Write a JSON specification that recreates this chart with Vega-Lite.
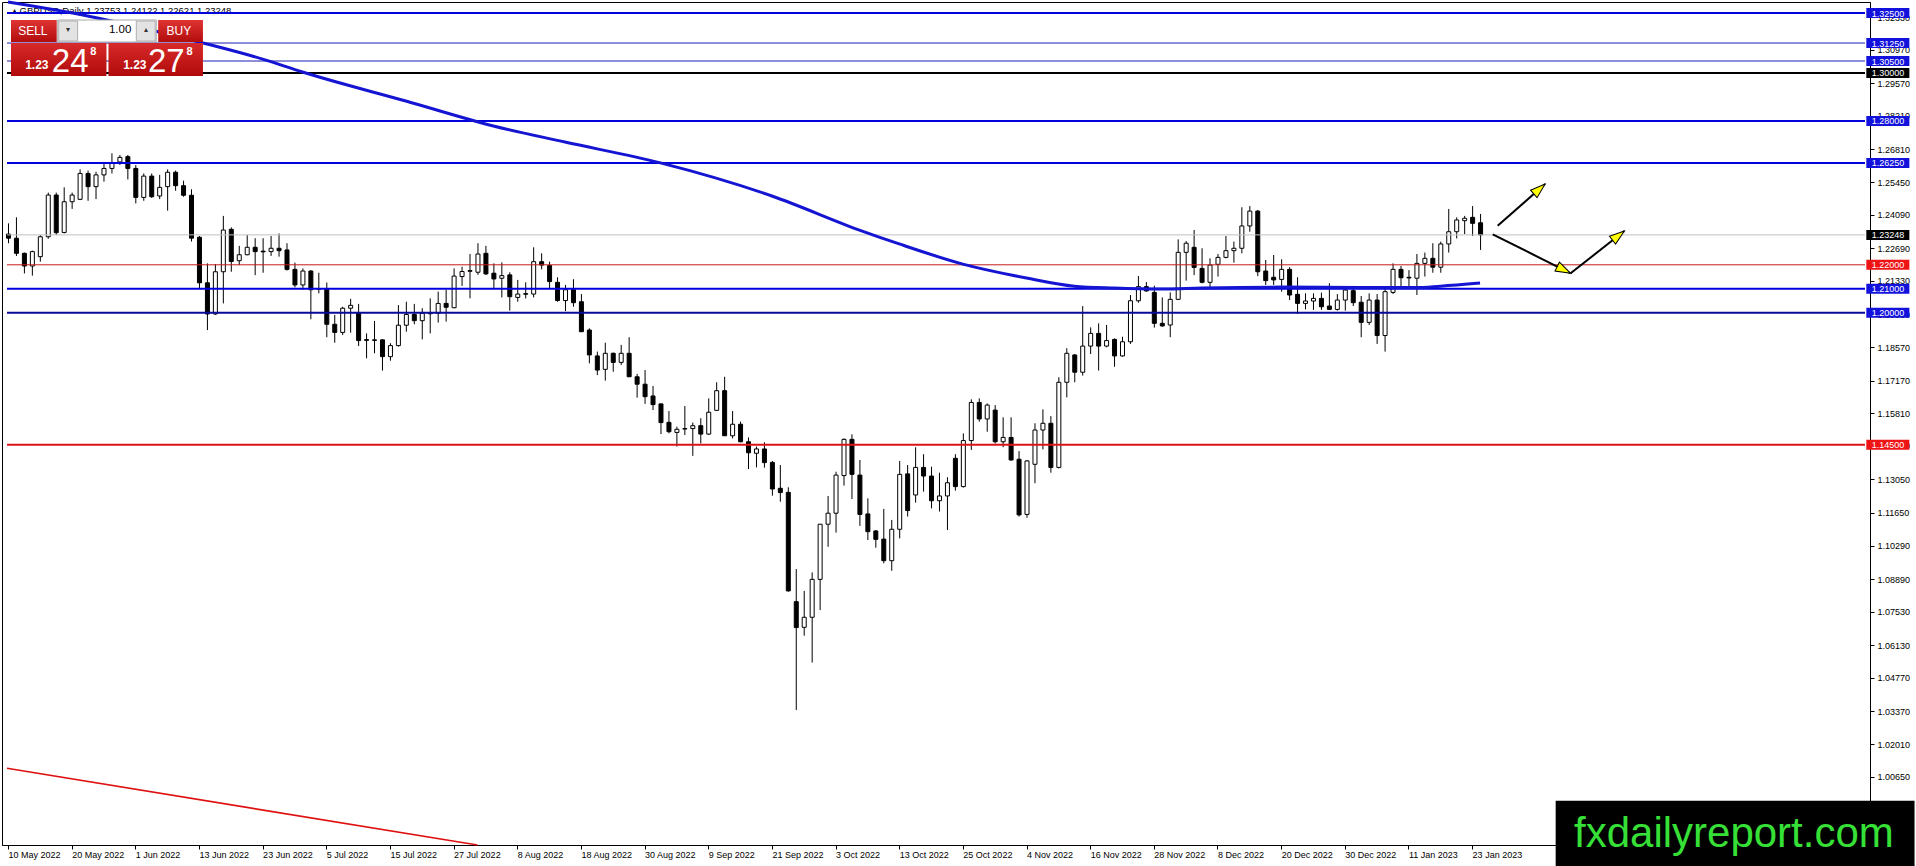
{
  "$schema": "https://vega.github.io/schema/vega-lite/v6.json",
  "width": 1868,
  "height": 843,
  "autosize": {"type": "none"},
  "padding": {"left": 2, "top": 2, "right": 46, "bottom": 21},
  "background": "#ffffff",
  "config": {
    "view": {"stroke": "#000000", "strokeWidth": 1},
    "font": "Liberation Sans",
    "axis": {"labelFont": "Liberation Sans", "labelFontSize": 9, "labelColor": "#000000", "domainColor": "#000000", "tickColor": "#000000", "tickSize": 4, "grid": false}
  },
  "resolve": {"axis": {"x": "independent", "y": "independent"}},
  "datasets": {
    "ohlc": [
      {"i":0,"o":1.2328,"h":1.2373,"l":1.2290,"c":1.2311},
      {"i":1,"o":1.2311,"h":1.2398,"l":1.2237,"c":1.2248},
      {"i":2,"o":1.2248,"h":1.2251,"l":1.2164,"c":1.2195},
      {"i":3,"o":1.2195,"h":1.2259,"l":1.2155,"c":1.2255},
      {"i":4,"o":1.2234,"h":1.2324,"l":1.2213,"c":1.2317},
      {"i":5,"o":1.2317,"h":1.2501,"l":1.2309,"c":1.2491},
      {"i":6,"o":1.2491,"h":1.2501,"l":1.2324,"c":1.2334},
      {"i":7,"o":1.2335,"h":1.2523,"l":1.2331,"c":1.2463},
      {"i":8,"o":1.2463,"h":1.2501,"l":1.2433,"c":1.2491},
      {"i":9,"o":1.2473,"h":1.2598,"l":1.2470,"c":1.2581},
      {"i":10,"o":1.2581,"h":1.2593,"l":1.2467,"c":1.2526},
      {"i":11,"o":1.2526,"h":1.2588,"l":1.2474,"c":1.2575},
      {"i":12,"o":1.2575,"h":1.2626,"l":1.2547,"c":1.2602},
      {"i":13,"o":1.2602,"h":1.2665,"l":1.2581,"c":1.2626},
      {"i":14,"o":1.2629,"h":1.2658,"l":1.2616,"c":1.2648},
      {"i":15,"o":1.2651,"h":1.2658,"l":1.2556,"c":1.2602},
      {"i":16,"o":1.2602,"h":1.2616,"l":1.2456,"c":1.2481},
      {"i":17,"o":1.2481,"h":1.2581,"l":1.2467,"c":1.2570},
      {"i":18,"o":1.2570,"h":1.2581,"l":1.2479,"c":1.2484},
      {"i":19,"o":1.2487,"h":1.2575,"l":1.2474,"c":1.2523},
      {"i":20,"o":1.2526,"h":1.2598,"l":1.2426,"c":1.2586},
      {"i":21,"o":1.2586,"h":1.2593,"l":1.2509,"c":1.2530},
      {"i":22,"o":1.2530,"h":1.2551,"l":1.2484,"c":1.2490},
      {"i":23,"o":1.2490,"h":1.2515,"l":1.2297,"c":1.2311},
      {"i":24,"o":1.2315,"h":1.2320,"l":1.2102,"c":1.2125},
      {"i":25,"o":1.2125,"h":1.2206,"l":1.1928,"c":1.1995},
      {"i":26,"o":1.1995,"h":1.2203,"l":1.1991,"c":1.2171},
      {"i":27,"o":1.2171,"h":1.2404,"l":1.2039,"c":1.2345},
      {"i":28,"o":1.2348,"h":1.2356,"l":1.2171,"c":1.2214},
      {"i":29,"o":1.2217,"h":1.2279,"l":1.2199,"c":1.2242},
      {"i":30,"o":1.2242,"h":1.2324,"l":1.2240,"c":1.2273},
      {"i":31,"o":1.2273,"h":1.2311,"l":1.2157,"c":1.2255},
      {"i":32,"o":1.2257,"h":1.2311,"l":1.2167,"c":1.2254},
      {"i":33,"o":1.2255,"h":1.2320,"l":1.2237,"c":1.2269},
      {"i":34,"o":1.2269,"h":1.2331,"l":1.2234,"c":1.2259},
      {"i":35,"o":1.2262,"h":1.2290,"l":1.2176,"c":1.2181},
      {"i":36,"o":1.2181,"h":1.2209,"l":1.2106,"c":1.2116},
      {"i":37,"o":1.2116,"h":1.2185,"l":1.2095,"c":1.2174},
      {"i":38,"o":1.2174,"h":1.2178,"l":1.1973,"c":1.2096},
      {"i":39,"o":1.2098,"h":1.2167,"l":1.2081,"c":1.2101},
      {"i":40,"o":1.2098,"h":1.2126,"l":1.1898,"c":1.1952},
      {"i":41,"o":1.1952,"h":1.1991,"l":1.1875,"c":1.1918},
      {"i":42,"o":1.1918,"h":1.2025,"l":1.1907,"c":1.2019},
      {"i":43,"o":1.2019,"h":1.2058,"l":1.1917,"c":1.2031},
      {"i":44,"o":1.2000,"h":1.2037,"l":1.1861,"c":1.1884},
      {"i":45,"o":1.1888,"h":1.1914,"l":1.1810,"c":1.1885},
      {"i":46,"o":1.1887,"h":1.1966,"l":1.1831,"c":1.1885},
      {"i":47,"o":1.1887,"h":1.1889,"l":1.1759,"c":1.1817},
      {"i":48,"o":1.1817,"h":1.1873,"l":1.1800,"c":1.1863},
      {"i":49,"o":1.1863,"h":1.2032,"l":1.1859,"c":1.1948},
      {"i":50,"o":1.1948,"h":1.2046,"l":1.1921,"c":1.1993},
      {"i":51,"o":1.1993,"h":1.2037,"l":1.1952,"c":1.1967},
      {"i":52,"o":1.1967,"h":1.2019,"l":1.1889,"c":1.1998},
      {"i":53,"o":1.1996,"h":1.2060,"l":1.1914,"c":1.1999},
      {"i":54,"o":1.1998,"h":1.2088,"l":1.1959,"c":1.2039},
      {"i":55,"o":1.2039,"h":1.2096,"l":1.1963,"c":1.2023},
      {"i":56,"o":1.2021,"h":1.2185,"l":1.2019,"c":1.2153},
      {"i":57,"o":1.2151,"h":1.2192,"l":1.2112,"c":1.2172},
      {"i":58,"o":1.2173,"h":1.2245,"l":1.2060,"c":1.2176},
      {"i":59,"o":1.2169,"h":1.2290,"l":1.2158,"c":1.2245},
      {"i":60,"o":1.2248,"h":1.2279,"l":1.2158,"c":1.2162},
      {"i":61,"o":1.2165,"h":1.2206,"l":1.2102,"c":1.2141},
      {"i":62,"o":1.2144,"h":1.2210,"l":1.2064,"c":1.2155},
      {"i":63,"o":1.2158,"h":1.2169,"l":1.2009,"c":1.2067},
      {"i":64,"o":1.2064,"h":1.2137,"l":1.2046,"c":1.2078},
      {"i":65,"o":1.2077,"h":1.2127,"l":1.2060,"c":1.2080},
      {"i":66,"o":1.2078,"h":1.2273,"l":1.2064,"c":1.2213},
      {"i":67,"o":1.2213,"h":1.2248,"l":1.2181,"c":1.2199},
      {"i":68,"o":1.2197,"h":1.2213,"l":1.2102,"c":1.2130},
      {"i":69,"o":1.2127,"h":1.2148,"l":1.2046,"c":1.2051},
      {"i":70,"o":1.2051,"h":1.2116,"l":1.2007,"c":1.2096},
      {"i":71,"o":1.2096,"h":1.2140,"l":1.2025,"c":1.2042},
      {"i":72,"o":1.2046,"h":1.2078,"l":1.1921,"c":1.1921},
      {"i":73,"o":1.1928,"h":1.1935,"l":1.1789,"c":1.1824},
      {"i":74,"o":1.1820,"h":1.1838,"l":1.1740,"c":1.1761},
      {"i":75,"o":1.1764,"h":1.1875,"l":1.1717,"c":1.1831},
      {"i":76,"o":1.1831,"h":1.1834,"l":1.1754,"c":1.1793},
      {"i":77,"o":1.1793,"h":1.1866,"l":1.1782,"c":1.1831},
      {"i":78,"o":1.1831,"h":1.1898,"l":1.1733,"c":1.1733},
      {"i":79,"o":1.1733,"h":1.1745,"l":1.1646,"c":1.1702},
      {"i":80,"o":1.1702,"h":1.1761,"l":1.1620,"c":1.1650},
      {"i":81,"o":1.1653,"h":1.1695,"l":1.1594,"c":1.1617},
      {"i":82,"o":1.1620,"h":1.1620,"l":1.1494,"c":1.1542},
      {"i":83,"o":1.1543,"h":1.1590,"l":1.1497,"c":1.1504},
      {"i":84,"o":1.1501,"h":1.1525,"l":1.1442,"c":1.1514},
      {"i":85,"o":1.1515,"h":1.1611,"l":1.1490,"c":1.1517},
      {"i":86,"o":1.1517,"h":1.1542,"l":1.1403,"c":1.1529},
      {"i":87,"o":1.1529,"h":1.1560,"l":1.1455,"c":1.1494},
      {"i":88,"o":1.1494,"h":1.1643,"l":1.1490,"c":1.1585},
      {"i":89,"o":1.1593,"h":1.1710,"l":1.1590,"c":1.1675},
      {"i":90,"o":1.1675,"h":1.1733,"l":1.1487,"c":1.1487},
      {"i":91,"o":1.1487,"h":1.1590,"l":1.1476,"c":1.1535},
      {"i":92,"o":1.1535,"h":1.1546,"l":1.1460,"c":1.1462},
      {"i":93,"o":1.1462,"h":1.1480,"l":1.1348,"c":1.1416},
      {"i":94,"o":1.1414,"h":1.1442,"l":1.1355,"c":1.1432},
      {"i":95,"o":1.1432,"h":1.1460,"l":1.1354,"c":1.1375},
      {"i":96,"o":1.1376,"h":1.1382,"l":1.1237,"c":1.1265},
      {"i":97,"o":1.1268,"h":1.1365,"l":1.1212,"c":1.1250},
      {"i":98,"o":1.1251,"h":1.1272,"l":1.0837,"c":1.0840},
      {"i":99,"o":1.0795,"h":1.0931,"l":1.0343,"c":1.0687},
      {"i":100,"o":1.0688,"h":1.0840,"l":1.0653,"c":1.0730},
      {"i":101,"o":1.0730,"h":1.0917,"l":1.0541,"c":1.0888},
      {"i":102,"o":1.0888,"h":1.1118,"l":1.0760,"c":1.1118},
      {"i":103,"o":1.1118,"h":1.1236,"l":1.1024,"c":1.1164},
      {"i":104,"o":1.1164,"h":1.1337,"l":1.1083,"c":1.1323},
      {"i":105,"o":1.1321,"h":1.1476,"l":1.1279,"c":1.1472},
      {"i":106,"o":1.1472,"h":1.1493,"l":1.1223,"c":1.1326},
      {"i":107,"o":1.1323,"h":1.1386,"l":1.1111,"c":1.1159},
      {"i":108,"o":1.1161,"h":1.1226,"l":1.1052,"c":1.1087},
      {"i":109,"o":1.1090,"h":1.1094,"l":1.1020,"c":1.1055},
      {"i":110,"o":1.1056,"h":1.1182,"l":1.0955,"c":1.0966},
      {"i":111,"o":1.0966,"h":1.1136,"l":1.0924,"c":1.1097},
      {"i":112,"o":1.1097,"h":1.1382,"l":1.1059,"c":1.1326},
      {"i":113,"o":1.1328,"h":1.1365,"l":1.1150,"c":1.1175},
      {"i":114,"o":1.1240,"h":1.1439,"l":1.1208,"c":1.1355},
      {"i":115,"o":1.1355,"h":1.1410,"l":1.1254,"c":1.1319},
      {"i":116,"o":1.1319,"h":1.1358,"l":1.1184,"c":1.1216},
      {"i":117,"o":1.1216,"h":1.1333,"l":1.1171,"c":1.1236},
      {"i":118,"o":1.1236,"h":1.1314,"l":1.1094,"c":1.1291},
      {"i":119,"o":1.1393,"h":1.1410,"l":1.1258,"c":1.1275},
      {"i":120,"o":1.1275,"h":1.1497,"l":1.1271,"c":1.1467},
      {"i":121,"o":1.1467,"h":1.1639,"l":1.1428,"c":1.1626},
      {"i":122,"o":1.1626,"h":1.1643,"l":1.1546,"c":1.1557},
      {"i":123,"o":1.1557,"h":1.1622,"l":1.1504,"c":1.1615},
      {"i":124,"o":1.1594,"h":1.1615,"l":1.1455,"c":1.1462},
      {"i":125,"o":1.1462,"h":1.1564,"l":1.1439,"c":1.1480},
      {"i":126,"o":1.1480,"h":1.1564,"l":1.1383,"c":1.1386},
      {"i":127,"o":1.1389,"h":1.1423,"l":1.1150,"c":1.1157},
      {"i":128,"o":1.1159,"h":1.1386,"l":1.1145,"c":1.1382},
      {"i":129,"o":1.1368,"h":1.1539,"l":1.1289,"c":1.1511},
      {"i":130,"o":1.1511,"h":1.1597,"l":1.1430,"c":1.1539},
      {"i":131,"o":1.1539,"h":1.1569,"l":1.1333,"c":1.1355},
      {"i":132,"o":1.1355,"h":1.1731,"l":1.1351,"c":1.1710},
      {"i":133,"o":1.1710,"h":1.1852,"l":1.1647,"c":1.1831},
      {"i":134,"o":1.1824,"h":1.1828,"l":1.1710,"c":1.1752},
      {"i":135,"o":1.1752,"h":1.2028,"l":1.1738,"c":1.1861},
      {"i":136,"o":1.1861,"h":1.1939,"l":1.1828,"c":1.1914},
      {"i":137,"o":1.1914,"h":1.1956,"l":1.1759,"c":1.1861},
      {"i":138,"o":1.1861,"h":1.1949,"l":1.1856,"c":1.1884},
      {"i":139,"o":1.1889,"h":1.1893,"l":1.1775,"c":1.1820},
      {"i":140,"o":1.1820,"h":1.1900,"l":1.1817,"c":1.1879},
      {"i":141,"o":1.1879,"h":1.2074,"l":1.1870,"c":1.2050},
      {"i":142,"o":1.2050,"h":1.2153,"l":1.2042,"c":1.2109},
      {"i":143,"o":1.2109,"h":1.2128,"l":1.2088,"c":1.2091},
      {"i":144,"o":1.2085,"h":1.2113,"l":1.1938,"c":1.1956},
      {"i":145,"o":1.1956,"h":1.2064,"l":1.1942,"c":1.1945},
      {"i":146,"o":1.1949,"h":1.2085,"l":1.1898,"c":1.2056},
      {"i":147,"o":1.2056,"h":1.2306,"l":1.2053,"c":1.2252},
      {"i":148,"o":1.2252,"h":1.2299,"l":1.2134,"c":1.2290},
      {"i":149,"o":1.2273,"h":1.2345,"l":1.2157,"c":1.2189},
      {"i":150,"o":1.2185,"h":1.2269,"l":1.2123,"c":1.2127},
      {"i":151,"o":1.2127,"h":1.2227,"l":1.2105,"c":1.2199},
      {"i":152,"o":1.2202,"h":1.2245,"l":1.2151,"c":1.2231},
      {"i":153,"o":1.2231,"h":1.2320,"l":1.2227,"c":1.2259},
      {"i":154,"o":1.2259,"h":1.2297,"l":1.2209,"c":1.2269},
      {"i":155,"o":1.2269,"h":1.2440,"l":1.2248,"c":1.2362},
      {"i":156,"o":1.2362,"h":1.2445,"l":1.2338,"c":1.2424},
      {"i":157,"o":1.2424,"h":1.2429,"l":1.2153,"c":1.2171},
      {"i":158,"o":1.2174,"h":1.2220,"l":1.2116,"c":1.2134},
      {"i":159,"o":1.2148,"h":1.2241,"l":1.2116,"c":1.2137},
      {"i":160,"o":1.2139,"h":1.2223,"l":1.2088,"c":1.2181},
      {"i":161,"o":1.2181,"h":1.2190,"l":1.2053,"c":1.2074},
      {"i":162,"o":1.2077,"h":1.2148,"l":1.1995,"c":1.2039},
      {"i":163,"o":1.2039,"h":1.2081,"l":1.2014,"c":1.2049},
      {"i":164,"o":1.2049,"h":1.2081,"l":1.2012,"c":1.2060},
      {"i":165,"o":1.2060,"h":1.2084,"l":1.2012,"c":1.2025},
      {"i":166,"o":1.2028,"h":1.2123,"l":1.2014,"c":1.2014},
      {"i":167,"o":1.2014,"h":1.2078,"l":1.2009,"c":1.2053},
      {"i":168,"o":1.2053,"h":1.2106,"l":1.2009,"c":1.2095},
      {"i":169,"o":1.2092,"h":1.2102,"l":1.2028,"c":1.2042},
      {"i":170,"o":1.2044,"h":1.2070,"l":1.1898,"c":1.1960},
      {"i":171,"o":1.1960,"h":1.2081,"l":1.1949,"c":1.2053},
      {"i":172,"o":1.2053,"h":1.2078,"l":1.1870,"c":1.1905},
      {"i":173,"o":1.1905,"h":1.2106,"l":1.1838,"c":1.2088},
      {"i":174,"o":1.2085,"h":1.2206,"l":1.2078,"c":1.2181},
      {"i":175,"o":1.2181,"h":1.2195,"l":1.2109,"c":1.2146},
      {"i":176,"o":1.2148,"h":1.2178,"l":1.2109,"c":1.2145},
      {"i":177,"o":1.2144,"h":1.2245,"l":1.2074,"c":1.2206},
      {"i":178,"o":1.2206,"h":1.2251,"l":1.2151,"c":1.2227},
      {"i":179,"o":1.2227,"h":1.2290,"l":1.2167,"c":1.2190},
      {"i":180,"o":1.2190,"h":1.2297,"l":1.2167,"c":1.2287},
      {"i":181,"o":1.2287,"h":1.2433,"l":1.2251,"c":1.2338},
      {"i":182,"o":1.2338,"h":1.2398,"l":1.2310,"c":1.2387},
      {"i":183,"o":1.2384,"h":1.2404,"l":1.2328,"c":1.2394},
      {"i":184,"o":1.2398,"h":1.2445,"l":1.2320,"c":1.2373},
      {"i":185,"o":1.23753,"h":1.24122,"l":1.22621,"c":1.23248}
    ],
    "ma": [
      {"i":0,"v":1.3296},{"i":10,"v":1.3238},{"i":25,"v":1.3121},{"i":32,"v":1.3058},
      {"i":37,"v":1.3004},{"i":50,"v":1.2883},{"i":61,"v":1.2779},{"i":70,"v":1.2712},
      {"i":82,"v":1.2625},{"i":96,"v":1.2487},{"i":107,"v":1.2345},{"i":112,"v":1.2287},
      {"i":120,"v":1.2203},{"i":128,"v":1.2145},{"i":134,"v":1.2111},{"i":139,"v":1.2103},
      {"i":145,"v":1.2099},{"i":150,"v":1.2103},{"i":160,"v":1.2107},{"i":170,"v":1.2105},
      {"i":177,"v":1.2105},{"i":180,"v":1.2111},{"i":185,"v":1.2124}
    ],
    "trend": [
      {"i":-0.125,"v":1.0100},{"i":59,"v":0.97802}
    ],
    "thick": [
      {"p":1.325,"k":"blue"},{"p":1.30,"k":"black"},{"p":1.28,"k":"blue"},
      {"p":1.2625,"k":"blue"},{"p":1.21,"k":"blue"},{"p":1.20,"k":"navy"},
      {"p":1.145,"k":"red"}
    ],
    "thin": [
      {"p":1.3125,"k":"thin"},{"p":1.305,"k":"thin"},
      {"p":1.23248,"k":"price"},{"p":1.22,"k":"redthin"}
    ],
    "tags": [
      {"p":1.325,"t":"1.32500","k":"blue"},{"p":1.3125,"t":"1.31250","k":"blue"},
      {"p":1.305,"t":"1.30500","k":"blue"},{"p":1.30,"t":"1.30000","k":"black"},
      {"p":1.28,"t":"1.28000","k":"blue"},{"p":1.2625,"t":"1.26250","k":"blue"},
      {"p":1.23248,"t":"1.23248","k":"black"},{"p":1.22,"t":"1.22000","k":"red"},
      {"p":1.21,"t":"1.21000","k":"blue"},{"p":1.20,"t":"1.20000","k":"blue"},
      {"p":1.145,"t":"1.14500","k":"red"}
    ],
    "arrows": [
      {"x1":187.21,"y1":1.23631,"x2":193.17,"y2":1.25368},
      {"x1":186.59,"y1":1.2327,"x2":196.38,"y2":1.21646},
      {"x1":196.38,"y1":1.21646,"x2":203.13,"y2":1.2341}
    ]
  },
  "layer": [
    {
      "data": {"name": "ohlc"},
      "mark": {"type": "rule", "color": "#000000", "strokeWidth": 1, "xOffset": 0.5},
      "encoding": {
        "x": {"field": "i", "type": "quantitative", "title": null,
          "scale": {"domain": [-0.125, 233.375], "nice": false, "zero": false},
          "axis": {"orient": "bottom", "values": [0,8,16,24,32,40,48,56,64,72,80,88,96,104,112,120,128,136,144,152,160,168,176,184],
            "labelExpr": "['10 May 2022','20 May 2022','1 Jun 2022','13 Jun 2022','23 Jun 2022','5 Jul 2022','15 Jul 2022','27 Jul 2022','8 Aug 2022','18 Aug 2022','30 Aug 2022','9 Sep 2022','21 Sep 2022','3 Oct 2022','13 Oct 2022','25 Oct 2022','4 Nov 2022','16 Nov 2022','28 Nov 2022','8 Dec 2022','20 Dec 2022','30 Dec 2022','11 Jan 2023','23 Jan 2023'][round(datum.value/8)]",
            "labelAlign": "left", "labelBaseline": "top", "labelPadding": 1, "labelFlush": false, "labelOverlap": false, "labelBound": false, "tickSize": 4, "labelColor": "#000000", "labelFontSize": 9}},
        "y": {"field": "l", "type": "quantitative", "title": null,
          "scale": {"domain": [0.97802, 1.32961], "nice": false, "zero": false},
          "axis": {"orient": "right", "values": [0.9925,1.0065,1.0201,1.0337,1.0477,1.0613,1.0753,1.0889,1.1029,1.1165,1.1305,1.1445,1.1581,1.1717,1.1857,1.1993,1.2133,1.2269,1.2409,1.2545,1.2681,1.2821,1.2957,1.3097,1.3233],
            "format": ".5f", "labelAlign": "left", "labelBaseline": "middle", "labelPadding": 3, "labelOverlap": false, "labelBound": false, "labelFlush": false, "tickSize": 4, "labelColor": "#000000", "labelFontSize": 9}},
        "y2": {"field": "h"}
      }
    },
    {
      "data": {"name": "ohlc"},
      "mark": {"type": "bar", "width": 4, "stroke": "#000000", "strokeWidth": 1, "xOffset": 0.5},
      "encoding": {
        "x": {"field": "i", "type": "quantitative", "scale": {"domain": [-0.125, 233.375], "nice": false, "zero": false}, "axis": null},
        "y": {"field": "o", "type": "quantitative", "scale": {"domain": [0.97802, 1.32961], "nice": false, "zero": false}, "axis": null},
        "y2": {"field": "c"},
        "fill": {"condition": {"test": "datum.c >= datum.o", "value": "#ffffff"}, "value": "#000000"}
      }
    },
    {
      "data": {"values": [{}]},
      "mark": {"type": "text", "align": "left", "baseline": "middle", "fontSize": 9.5, "color": "#000000", "text": "▴ GBPUSD,Daily  1.23753 1.24122 1.22621 1.23248"},
      "encoding": {
        "x": {"datum": 0.5, "type": "quantitative", "scale": {"domain": [-0.125, 233.375], "nice": false, "zero": false}, "axis": null},
        "y": {"datum": 1.32598, "type": "quantitative", "scale": {"domain": [0.97802, 1.32961], "nice": false, "zero": false}, "axis": null}
      }
    },
    {
      "data": {"name": "thick"},
      "mark": {"type": "rule", "strokeWidth": 2},
      "encoding": {
        "x": {"datum": -0.125, "type": "quantitative", "scale": {"domain": [-0.125, 233.375], "nice": false, "zero": false}, "axis": null},
        "x2": {"datum": 233.375},
        "y": {"field": "p", "type": "quantitative", "scale": {"domain": [0.97802, 1.32961], "nice": false, "zero": false}, "axis": null},
        "stroke": {"field": "k", "type": "nominal", "legend": null,
          "scale": {"domain": ["blue","black","navy","red","thin","price","redthin"], "range": ["#0000dc","#000000","#0a0a9a","#dc1414","#1c1cb4","#c0c0c0","#c41c1c"]}}
      }
    },
    {
      "data": {"name": "thin"},
      "mark": {"type": "rule", "strokeWidth": 1},
      "encoding": {
        "x": {"datum": -0.125, "type": "quantitative", "scale": {"domain": [-0.125, 233.375], "nice": false, "zero": false}, "axis": null},
        "x2": {"datum": 233.375},
        "y": {"field": "p", "type": "quantitative", "scale": {"domain": [0.97802, 1.32961], "nice": false, "zero": false}, "axis": null},
        "stroke": {"field": "k", "type": "nominal", "legend": null}
      }
    },
    {
      "data": {"name": "ma"},
      "mark": {"type": "line", "color": "#1414d2", "strokeWidth": 3, "interpolate": "monotone"},
      "encoding": {
        "x": {"field": "i", "type": "quantitative", "scale": {"domain": [-0.125, 233.375], "nice": false, "zero": false}, "axis": null},
        "y": {"field": "v", "type": "quantitative", "scale": {"domain": [0.97802, 1.32961], "nice": false, "zero": false}, "axis": null}
      }
    },
    {
      "data": {"name": "trend"},
      "mark": {"type": "line", "color": "#e01010", "strokeWidth": 1.6},
      "encoding": {
        "x": {"field": "i", "type": "quantitative", "scale": {"domain": [-0.125, 233.375], "nice": false, "zero": false}, "axis": null},
        "y": {"field": "v", "type": "quantitative", "scale": {"domain": [0.97802, 1.32961], "nice": false, "zero": false}, "axis": null}
      }
    },
    {
      "data": {"name": "arrows"},
      "mark": {"type": "rule", "color": "#000000", "strokeWidth": 2},
      "encoding": {
        "x": {"field": "x1", "type": "quantitative", "scale": {"domain": [-0.125, 233.375], "nice": false, "zero": false}, "axis": null},
        "x2": {"field": "x2"},
        "y": {"field": "y1", "type": "quantitative", "scale": {"domain": [0.97802, 1.32961], "nice": false, "zero": false}, "axis": null},
        "y2": {"field": "y2"}
      }
    },
    {
      "data": {"name": "arrows"},
      "transform": [{"calculate": "atan2(8 * (datum.x2 - datum.x1), 2397.6 * (datum.y2 - datum.y1)) * 180 / PI", "as": "ang"}],
      "mark": {"type": "point", "shape": "M0,0L0.66,2L-0.66,2Z", "size": 225, "filled": true, "fill": "#ffff00", "stroke": "#000000", "strokeWidth": 1, "opacity": 1},
      "encoding": {
        "x": {"field": "x2", "type": "quantitative", "scale": {"domain": [-0.125, 233.375], "nice": false, "zero": false}, "axis": null},
        "y": {"field": "y2", "type": "quantitative", "scale": {"domain": [0.97802, 1.32961], "nice": false, "zero": false}, "axis": null},
        "angle": {"field": "ang", "type": "quantitative", "scale": null}
      }
    },
    {
      "data": {"name": "tags"},
      "mark": {"type": "rect", "yOffset": -5, "y2Offset": 5},
      "encoding": {
        "x": {"datum": 233.54, "type": "quantitative", "scale": {"domain": [-0.125, 233.375], "nice": false, "zero": false}, "axis": null},
        "x2": {"datum": 238.95},
        "y": {"field": "p", "type": "quantitative", "scale": {"domain": [0.97802, 1.32961], "nice": false, "zero": false}, "axis": null},
        "y2": {"field": "p"},
        "fill": {"field": "k", "type": "nominal", "legend": null,
          "scale": {"domain": ["blue","black","red"], "range": ["#1212dc","#000000","#ee1414"]}}
      }
    },
    {
      "data": {"name": "tags"},
      "mark": {"type": "text", "align": "left", "baseline": "middle", "color": "#ffffff", "fontSize": 9, "dy": 0.5},
      "encoding": {
        "x": {"datum": 234.21, "type": "quantitative", "scale": {"domain": [-0.125, 233.375], "nice": false, "zero": false}, "axis": null},
        "y": {"field": "p", "type": "quantitative", "scale": {"domain": [0.97802, 1.32961], "nice": false, "zero": false}, "axis": null},
        "text": {"field": "t"}
      }
    },
    {
      "data": {"values": [{}]},
      "layer": [
        {"mark": {"type": "rect", "fill": {"gradient": "linear", "x1": 0, "y1": 0, "x2": 0, "y2": 1, "stops": [{"offset": 0, "color": "#e03434"}, {"offset": 1, "color": "#b20c0c"}]}},
         "encoding": {"x": {"datum": 0.375, "type": "quantitative", "axis": null}, "x2": {"datum": 6.125},
           "y": {"datum": 1.3221, "type": "quantitative", "axis": null}, "y2": {"datum": 1.31292}}},
        {"mark": {"type": "rect", "fill": "#ffffff", "stroke": "#a8a8a8", "strokeWidth": 1},
         "encoding": {"x": {"datum": 6.25, "type": "quantitative", "axis": null}, "x2": {"datum": 18.625}, "y": {"datum": 1.3221, "type": "quantitative", "axis": null}, "y2": {"datum": 1.31292}}},
        {"mark": {"type": "rect", "fill": "#e3e3e3", "stroke": "#b0b0b0", "strokeWidth": 1},
         "encoding": {"x": {"datum": 6.375, "type": "quantitative", "axis": null}, "x2": {"datum": 8.75}, "y": {"datum": 1.32168, "type": "quantitative", "axis": null}, "y2": {"datum": 1.31334}}},
        {"mark": {"type": "rect", "fill": "#e3e3e3", "stroke": "#b0b0b0", "strokeWidth": 1},
         "encoding": {"x": {"datum": 16.125, "type": "quantitative", "axis": null}, "x2": {"datum": 18.5}, "y": {"datum": 1.32168, "type": "quantitative", "axis": null}, "y2": {"datum": 1.31334}}},
        {"mark": {"type": "rect", "fill": {"gradient": "linear", "x1": 0, "y1": 0, "x2": 0, "y2": 1, "stops": [{"offset": 0, "color": "#e03434"}, {"offset": 1, "color": "#b20c0c"}]}},
         "encoding": {"x": {"datum": 18.875, "type": "quantitative", "axis": null}, "x2": {"datum": 24.5}, "y": {"datum": 1.3221, "type": "quantitative", "axis": null}, "y2": {"datum": 1.31292}}},
        {"mark": {"type": "rect", "fill": {"gradient": "linear", "x1": 0, "y1": 0, "x2": 0, "y2": 1, "stops": [{"offset": 0, "color": "#d82a2a"}, {"offset": 1, "color": "#b00a0a"}]}},
         "encoding": {"x": {"datum": 0.375, "type": "quantitative", "axis": null}, "x2": {"datum": 12.375}, "y": {"datum": 1.31251, "type": "quantitative", "axis": null}, "y2": {"datum": 1.29874}}},
        {"mark": {"type": "rect", "fill": {"gradient": "linear", "x1": 0, "y1": 0, "x2": 0, "y2": 1, "stops": [{"offset": 0, "color": "#d82a2a"}, {"offset": 1, "color": "#b00a0a"}]}},
         "encoding": {"x": {"datum": 12.625, "type": "quantitative", "axis": null}, "x2": {"datum": 24.5}, "y": {"datum": 1.31251, "type": "quantitative", "axis": null}, "y2": {"datum": 1.29874}}},
        {"mark": {"type": "text", "text": "SELL", "color": "#ffffff", "fontSize": 12, "align": "center", "baseline": "middle"},
         "encoding": {"x": {"datum": 3.125, "type": "quantitative", "axis": null}, "y": {"datum": 1.31751, "type": "quantitative", "axis": null}}},
        {"mark": {"type": "text", "text": "BUY", "color": "#ffffff", "fontSize": 12, "align": "center", "baseline": "middle"},
         "encoding": {"x": {"datum": 21.47, "type": "quantitative", "axis": null}, "y": {"datum": 1.31751, "type": "quantitative", "axis": null}}},
        {"mark": {"type": "text", "text": "1.00", "color": "#000000", "fontSize": 11.5, "align": "right", "baseline": "middle"},
         "encoding": {"x": {"datum": 15.5, "type": "quantitative", "axis": null}, "y": {"datum": 1.31793, "type": "quantitative", "axis": null}}},
        {"mark": {"type": "text", "text": "▾", "color": "#333333", "fontSize": 8, "align": "center", "baseline": "middle"},
         "encoding": {"x": {"datum": 7.5625, "type": "quantitative", "axis": null}, "y": {"datum": 1.31793, "type": "quantitative", "axis": null}}},
        {"mark": {"type": "text", "text": "▴", "color": "#333333", "fontSize": 8, "align": "center", "baseline": "middle"},
         "encoding": {"x": {"datum": 17.3125, "type": "quantitative", "axis": null}, "y": {"datum": 1.31793, "type": "quantitative", "axis": null}}},
        {"mark": {"type": "text", "text": "1.23", "color": "#ffffff", "fontSize": 12, "fontWeight": "bold", "align": "center", "baseline": "alphabetic"},
         "encoding": {"x": {"datum": 3.625, "type": "quantitative", "axis": null}, "y": {"datum": 1.30154, "type": "quantitative", "axis": null}}},
        {"mark": {"type": "text", "text": "24", "color": "#ffffff", "fontSize": 33, "align": "center", "baseline": "alphabetic"},
         "encoding": {"x": {"datum": 7.8125, "type": "quantitative", "axis": null}, "y": {"datum": 1.30054, "type": "quantitative", "axis": null}}},
        {"mark": {"type": "text", "text": "8", "color": "#ffffff", "fontSize": 11, "fontWeight": "bold", "align": "center", "baseline": "alphabetic"},
         "encoding": {"x": {"datum": 10.73, "type": "quantitative", "axis": null}, "y": {"datum": 1.3075, "type": "quantitative", "axis": null}}},
        {"mark": {"type": "text", "text": "1.23", "color": "#ffffff", "fontSize": 12, "fontWeight": "bold", "align": "center", "baseline": "alphabetic"},
         "encoding": {"x": {"datum": 15.94, "type": "quantitative", "axis": null}, "y": {"datum": 1.30154, "type": "quantitative", "axis": null}}},
        {"mark": {"type": "text", "text": "27", "color": "#ffffff", "fontSize": 33, "align": "center", "baseline": "alphabetic"},
         "encoding": {"x": {"datum": 19.9, "type": "quantitative", "axis": null}, "y": {"datum": 1.30054, "type": "quantitative", "axis": null}}},
        {"mark": {"type": "text", "text": "8", "color": "#ffffff", "fontSize": 11, "fontWeight": "bold", "align": "center", "baseline": "alphabetic"},
         "encoding": {"x": {"datum": 22.81, "type": "quantitative", "axis": null}, "y": {"datum": 1.3075, "type": "quantitative", "axis": null}}},
        {"mark": {"type": "rect", "fill": "#000000"},
         "encoding": {"x": {"datum": 194.5, "type": "quantitative", "axis": null}, "x2": {"datum": 239.6}, "y": {"datum": 0.99652, "type": "quantitative", "axis": null}, "y2": {"datum": 0.9675}}},
        {"mark": {"type": "text", "text": "fxdailyreport.com", "color": "#36e036", "fontSize": 42, "align": "center", "baseline": "alphabetic"},
         "encoding": {"x": {"datum": 216.9, "type": "quantitative", "axis": null}, "y": {"datum": 0.97698, "type": "quantitative", "axis": null}}}
      ]
    }
  ]
}
